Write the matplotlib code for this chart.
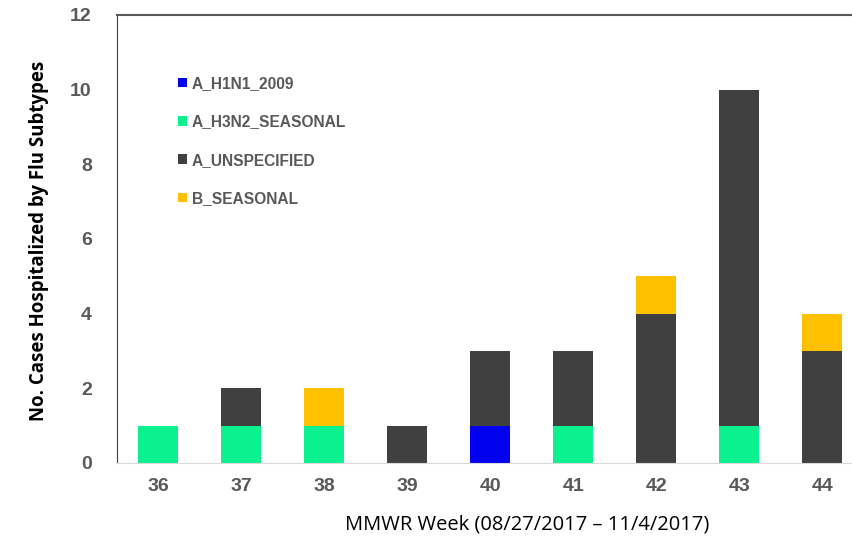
import matplotlib.pyplot as plt
import numpy as np

weeks = ["36", "37", "38", "39", "40", "41", "42", "43", "44"]
h1n1 = [0, 0, 0, 0, 1, 0, 0, 0, 0]
h3n2 = [1, 1, 1, 0, 0, 1, 0, 1, 0]
unspecified = [0, 1, 0, 1, 2, 2, 4, 9, 3]
b_seasonal = [0, 0, 1, 0, 0, 0, 1, 0, 1]

series = [("A_H1N1_2009", h1n1, "#0000ee"),
          ("A_H3N2_SEASONAL", h3n2, "#0cf18f"),
          ("A_UNSPECIFIED", unspecified, "#404040"),
          ("B_SEASONAL", b_seasonal, "#ffc000")]

tick_font = ["Liberation Sans Narrow", "Liberation Sans", "DejaVu Sans"]

fig = plt.figure(figsize=(8.53, 5.42), dpi=100)
ax = fig.add_axes([0.137, 0.1458, 0.863, 0.8266])

x = np.arange(len(weeks))
bottom = np.zeros(len(weeks))
for name, vals, color in series:
    ax.bar(x, vals, width=0.48, bottom=bottom, color=color, label=name)
    bottom += np.array(vals)

ax.set_xlim(-0.5, 8.37)
ax.set_ylim(0, 12)
ax.set_yticks(range(0, 13, 2))
ax.set_xticks(x)
ax.set_xticklabels(weeks)
ax.tick_params(length=0, labelsize=14, labelcolor="#595959")
ax.tick_params(axis="y", pad=18)
ax.tick_params(axis="x", pad=11)
for lab in ax.get_xticklabels() + ax.get_yticklabels():
    lab.set_family(tick_font)
    lab.set_fontweight("bold")

ax.spines["right"].set_visible(False)
ax.spines["left"].set_color("#404040")
ax.spines["top"].set_color("#595959")
ax.spines["top"].set_linewidth(1.5)
ax.spines["bottom"].set_color("#d9d9d9")

ax.set_ylabel("No. Cases Hospitalized by Flu Subtypes", fontsize=13.4,
              fontweight="bold", family="Open Sans")
ax.yaxis.set_label_coords(-0.092, 0.495)
ax.set_xlabel("MMWR Week (08/27/2017 \u2013 11/4/2017)", fontsize=14.5,
              family="Open Sans")
ax.xaxis.set_label_coords(0.557, -0.115)

leg = ax.legend(loc="upper left", bbox_to_anchor=(0.064, 0.895), frameon=False,
                handlelength=0.6, handleheight=0.6, handletextpad=0.3,
                labelspacing=1.5, prop={"family": "Liberation Sans", "weight": "bold", "size": 11.2})
for t in leg.get_texts():
    t.set_color("#595959")

fig.savefig("out.png", dpi=100)
